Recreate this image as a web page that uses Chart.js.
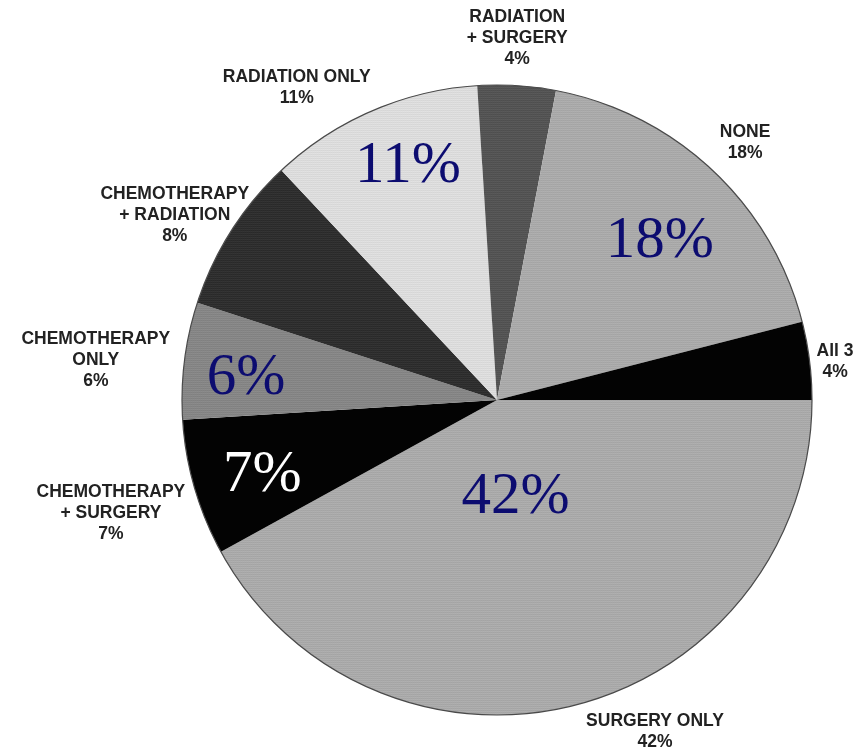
<!DOCTYPE html>
<html>
<head>
<meta charset="utf-8">
<script src="https://cdn.jsdelivr.net/npm/chart.js@4/dist/chart.umd.min.js"></script>
<style>
  html, body { margin: 0; padding: 0; background: #fff; }
  #wrap { width: 857px; height: 754px; }
</style>
</head>
<body>
<div id="wrap"><canvas id="treatmentPie" width="857" height="754"></canvas></div>
<script>
// treatment groups, clockwise from 3 o'clock
const categories = [
  ['SURGERY ONLY'],
  ['CHEMOTHERAPY', '+ SURGERY'],
  ['CHEMOTHERAPY', 'ONLY'],
  ['CHEMOTHERAPY', '+ RADIATION'],
  ['RADIATION ONLY'],
  ['RADIATION', '+ SURGERY'],
  ['NONE'],
  ['All 3']
];
const shares = [42, 7, 6, 8, 11, 4, 18, 4];
const bigLabelShown = [true, true, true, false, true, false, true, false];

const sliceColors = ['#aaaaaa', '#030303', '#868686', '#2f2f2f', '#dcdcdc', '#545454', '#aaaaaa', '#030303'];
const bigLabelColors = ['#0c0c70', '#ffffff', '#0c0c70', '#0c0c70', '#0c0c70', '#0c0c70', '#0c0c70', '#0c0c70'];

// label placement around each slice: radius as a fraction of the pie radius, angle in degrees (clockwise from 3 o'clock)
const outerSpots = [
  { r: 1.165, a: 64.5 }, { r: 1.277, a: 163.7 }, { r: 1.28, a: 185.7 }, { r: 1.18, a: 209.9 },
  { r: 1.177, a: 237.3 }, { r: 1.15, a: 273.2 }, { r: 1.134, a: 314 }, { r: 1.08, a: 353.6 }
];
const innerSpots = [
  { r: 0.31, a: 79 }, { r: 0.78, a: 162.7 }, { r: 0.80, a: 185.3 }, null,
  { r: 0.80, a: 249.3 }, null, { r: 0.725, a: 315.5 }, null
];

// fine woven shading like an old halftone print
function shaded(hex) {
  const base = parseInt(hex.slice(1, 3), 16);
  if (base < 0x20) return hex;
  const tile = document.createElement('canvas');
  tile.width = tile.height = 4;
  const t = tile.getContext('2d');
  const img = t.createImageData(4, 4);
  for (let y = 0; y < 4; y++) {
    for (let x = 0; x < 4; x++) {
      const d = ((x + y) % 2 === 0) ? ((x % 2) ? 6 : -3) : ((y % 2) ? 3 : -6);
      const v = Math.max(0, Math.min(255, base + d));
      const k = (y * 4 + x) * 4;
      img.data[k] = img.data[k + 1] = img.data[k + 2] = v;
      img.data[k + 3] = 255;
    }
  }
  t.putImageData(img, 0, 0);
  return t.createPattern(tile, 'repeat');
}

const pieLabels = {
  id: 'pieLabels',
  afterDatasetsDraw(chart) {
    const ctx = chart.ctx;
    const arc = chart.getDatasetMeta(0).data[0];
    const cx = arc.x, cy = arc.y, R = arc.outerRadius;
    ctx.save();

    // rim
    ctx.beginPath();
    ctx.arc(cx, cy, R, 0, Math.PI * 2);
    ctx.strokeStyle = '#4a4a4a';
    ctx.lineWidth = 1.2;
    ctx.stroke();

    ctx.textAlign = 'center';
    ctx.textBaseline = 'middle';
    categories.forEach((lines, i) => {
      const spot = outerSpots[i];
      const t = spot.a * Math.PI / 180;
      const x = cx + Math.cos(t) * R * spot.r;
      const y = cy + Math.sin(t) * R * spot.r;
      const text = lines.concat([shares[i] + '%']);
      const lh = 21;
      ctx.font = 'bold 17.5px "Liberation Sans", Arial, sans-serif';
      ctx.fillStyle = '#222222';
      text.forEach((s, k) => {
        ctx.fillText(s, x, y + (k - (text.length - 1) / 2) * lh);
      });

      const inner = innerSpots[i];
      if (bigLabelShown[i] && inner) {
        const ti = inner.a * Math.PI / 180;
        ctx.font = '59px "Liberation Serif", "Times New Roman", serif';
        ctx.fillStyle = bigLabelColors[i];
        ctx.fillText(shares[i] + '%', cx + Math.cos(ti) * R * inner.r, cy + Math.sin(ti) * R * inner.r + 2);
      }
    });
    ctx.restore();
  }
};

new Chart(document.getElementById('treatmentPie'), {
  type: 'pie',
  data: {
    labels: categories.map(l => l.join(' ')),
    datasets: [{
      data: shares,
      backgroundColor: sliceColors.map(shaded),
      borderWidth: 0
    }]
  },
  options: {
    responsive: false,
    animation: false,
    rotation: 90,
    layout: { padding: { left: 182, right: 45, top: 85, bottom: 39 } },
    plugins: {
      legend: { display: false },
      tooltip: { enabled: false }
    },
    events: []
  },
  plugins: [pieLabels]
});
</script>
</body>
</html>
